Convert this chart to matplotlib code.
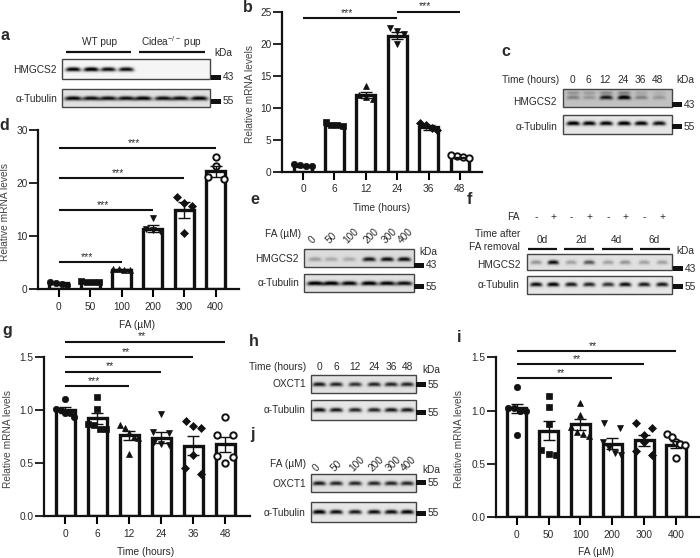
#!/usr/bin/env python3
"""Multi-panel figure: HMGCS2 / OXCT1 blots and mRNA bar charts."""
import matplotlib
matplotlib.use('Agg')
import matplotlib.pyplot as plt
from matplotlib.patches import Rectangle
import numpy as np

plt.rcParams['font.family'] = ['Liberation Sans', 'DejaVu Sans']
plt.rcParams['mathtext.fontset'] = 'custom'
plt.rcParams['mathtext.rm'] = 'Liberation Sans'
plt.rcParams['mathtext.default'] = 'regular'

W, H = 700, 558
INK = '#2a2a2a'
FS = 7.3

HOURS = ['0', '6', '12', '24', '36', '48']
DOSES = ['0', '50', '100', '200', '300', '400']

b_pts = [[1.0, 1.2, 1.1, 1.0], [7.2, 7.9, 7.4, 7.3], [11.5, 13.4, 11.8, 12.0],
         [22.5, 20.0, 22.0, 21.6], [7.4, 7.7, 6.5, 6.9], [2.5, 2.6, 2.4, 2.2]]
b_means = [1.0, 7.4, 12.1, 21.3, 7.0, 2.3]
b_errs = [0.05, 0.2, 0.5, 0.55, 0.4, 0.1]

d_pts = [[1.0, 1.3, 1.1, 0.9], [1.4, 1.5, 1.4, 1.3], [3.6, 3.9, 3.8, 3.7],
         [13.5, 11.2, 11.3, 10.9], [16.3, 17.3, 15.6, 10.6], [25.0, 23.2, 20.8, 21.2]]
d_means = [1.1, 1.4, 3.7, 11.4, 15.0, 22.2]
d_errs = [0.1, 0.1, 0.2, 0.7, 1.5, 1.1]

g_pts = [[1.10, 1.0, 1.01, 0.97, 0.97, 0.93], [1.12, 1.01, 0.86, 0.87, 0.82, 0.82],
         [0.86, 0.83, 0.78, 0.75, 0.74, 0.59], [0.96, 0.79, 0.78, 0.70, 0.68, 0.67],
         [0.90, 0.85, 0.83, 0.58, 0.45, 0.40], [0.93, 0.76, 0.76, 0.57, 0.56, 0.50]]
g_means = [1.0, 0.92, 0.76, 0.74, 0.665, 0.675]
g_errs = [0.03, 0.05, 0.04, 0.05, 0.09, 0.07]

i_pts = [[1.22, 1.02, 1.02, 1.0, 1.0, 0.77], [1.14, 1.03, 0.87, 0.63, 0.59, 0.58],
         [1.07, 0.96, 0.85, 0.80, 0.78, 0.76], [0.88, 0.84, 0.70, 0.65, 0.60, 0.58],
         [0.88, 0.84, 0.77, 0.70, 0.62, 0.58], [0.78, 0.75, 0.70, 0.69, 0.68, 0.55]]
i_means = [1.02, 0.81, 0.87, 0.69, 0.72, 0.68]
i_errs = [0.04, 0.09, 0.05, 0.05, 0.05, 0.03]

# significance bars: (from group, to group, height, label)
b_sig = [(0, 3, 24.1, '***'), (3, 5, 25.1, '***')]
d_sig = [(0, 5, 26.6, '***'), (0, 4, 20.96, '***'), (0, 3, 14.9, '***'), (0, 2, 5.1, '***')]
g_sig = [(0, 5, 1.64, '**'), (0, 4, 1.495, '**'), (0, 3, 1.36, '**'), (0, 2, 1.22, '***')]
i_sig = [(0, 5, 1.56, '**'), (0, 4, 1.435, '**'), (0, 3, 1.305, '**')]

# blot band strengths per lane
a_hmgcs2 = [0.9, 0.95, 0.85, 0.85, 0, 0, 0, 0]
a_tub = [0.9, 0.85, 0.85, 0.85, 0.9, 0.85, 0.85, 0.9]
c_hmgcs2 = [0.3, 0.2, 0.8, 0.95, 0.3, 0.2]
c_ghost = [0.25, 0.2, 0.3, 0.35, 0.15, 0.1]
c_tub = [0.95, 0.9, 0.9, 0.95, 0.9, 0.85]
e_hmgcs2 = [0.25, 0.2, 0.2, 0.8, 0.85, 0.85]
e_tub = [0.95, 0.95, 0.9, 0.95, 0.9, 0.85]
f_hmgcs2 = [0.3, 0.85, 0.25, 0.55, 0.25, 0.3, 0.25, 0.25]
f_tub = [0.85, 0.9, 0.8, 0.75, 0.7, 0.85, 0.8, 0.8]
h_oxct1 = [0.8, 0.75, 0.7, 0.75, 0.75, 0.75]
h_tub = [0.85, 0.8, 0.75, 0.75, 0.8, 0.8]
j_oxct1 = [0.8, 0.75, 0.75, 0.75, 0.75, 0.75]
j_tub = [0.95, 0.85, 0.8, 0.85, 0.85, 0.9]

fig = plt.figure(figsize=(W / 100, H / 100), dpi=100)
page = fig.add_axes([0, 0, 1, 1])
page.axis('off')


def swarm(vals, thresh):
    """Spread near-equal values sideways, the way Prism does."""
    order = np.argsort(vals)[::-1]
    off = np.zeros(len(vals))
    group = [order[0]]
    for k in list(order[1:]) + [None]:
        if k is not None and vals[group[-1]] - vals[k] < thresh:
            group.append(k)
            continue
        n = len(group)
        step = 0.5 if n == 2 else min(0.23, 0.56 / max(n - 1, 1))
        for j, idx in enumerate(group):
            off[idx] = (j - (n - 1) / 2) * step
        group = [k]
    return off


def bar_panel(x0, x1, y0, ytop, centre0, centre5, top, yticks, fmt, pts, means, errs,
              labels, sig, xlabel, xlabel_y, ylabel_x):
    step = (centre5 - centre0) / 5
    ax = fig.add_axes([x0 / W, 1 - y0 / H, (x1 - x0) / W, (y0 - ytop) / H])
    ax.set_xlim((x0 - centre0) / step, (x1 - centre0) / step)
    ax.set_ylim(0, top)
    ax.patch.set_alpha(0)
    xs = np.arange(6)
    ax.bar(xs, means, width=0.6, facecolor='white', edgecolor='#111111', linewidth=2.4, zorder=2)
    markers = ['o', 's', '^', 'v', 'D', 'o']
    for k, vals in enumerate(pts):
        vals = np.array(vals)
        off = swarm(vals, top * 0.035)
        hollow = k == 5
        ax.plot(k + off, vals, ls='none', marker=markers[k],
                ms=4.6 if markers[k] != 'D' else 3.6,
                mfc='white' if hollow else '#111111', mec='#111111',
                mew=1.4 if hollow else 0.5, zorder=3, clip_on=False)
    ax.errorbar(xs, means, yerr=errs, fmt='none', ecolor='#111111', elinewidth=1.0,
                capsize=4.4, capthick=1.0, zorder=4)
    for a, b, y, label in sig:
        ax.plot([a, b], [y, y], color='#111111', lw=1.5, clip_on=False, solid_capstyle='butt')
        ax.text((a + b) / 2 - 0.1, y + top * 0.002, label, ha='center', va='bottom', fontsize=7.5, color=INK)
    for side in ('top', 'right'):
        ax.spines[side].set_visible(False)
    for side in ('left', 'bottom'):
        ax.spines[side].set_linewidth(1.6)
        ax.spines[side].set_color('#111111')
    ax.set_xticks(xs, labels, fontsize=FS, color=INK)
    ax.set_yticks(yticks, [fmt % t for t in yticks], fontsize=FS, color=INK)
    ax.tick_params(axis='x', length=6, width=1.5, pad=3)
    ax.tick_params(axis='y', length=6.5, width=1.2, pad=1)
    page.text(ylabel_x, (y0 + ytop) / 2 + 2, 'Relative mRNA levels', rotation=90, ha='center', va='center',
              fontsize=FS, color='#444444')
    page.text((centre0 + centre5) / 2, xlabel_y, xlabel, ha='center', va='center', fontsize=FS, color=INK)


def gel(x0, x1, y0, y1, lanes, levels, bg=0.92, yc=0.5, half=6.5, ghost=None, ghost_yc=0.2):
    gx = np.arange(x0, x1, 0.5)
    gy = np.arange(y0, y1, 0.5)
    xx, yy = np.meshgrid(gx, gy)
    img = np.full(xx.shape, bg)
    cy = y0 + yc * (y1 - y0)
    for lx, lev in zip(lanes, levels):
        prof = np.exp(-((xx - lx) / half) ** 4)
        img -= 1.15 * lev * bg * prof * np.exp(-((yy - cy - 0.5 * ((xx - lx) / half) ** 2) / 2.1) ** 2)
    if ghost is not None:
        gc = y0 + ghost_yc * (y1 - y0)
        for lx, lev in zip(lanes, ghost):
            prof = np.exp(-((xx - lx) / half) ** 4)
            img -= lev * bg * prof * np.exp(-((yy - gc) / 1.8) ** 2)
    page.imshow(np.clip(img, 0, 1), extent=(x0, x1, y1, y0), cmap='gray', vmin=0, vmax=1,
                aspect='auto', interpolation='bilinear', zorder=1)
    page.add_patch(Rectangle((x0, y0), x1 - x0, y1 - y0, fill=False, ec='#444444', lw=1.0, zorder=2))


def size_mark(x, y, label):
    page.add_patch(Rectangle((x, y - 2.5), 10, 5, fc='#111111', ec='none', zorder=2))
    page.text(x + 12, y + 0.5, label, ha='left', va='center', fontsize=FS, color=INK)


def txt(x, y, s, ha='center', rot=0, size=FS, **kw):
    page.text(x, y, s, ha=ha, va='center', rotation=rot, fontsize=size, color=INK,
              rotation_mode='anchor', **kw)


def hline(x0, x1, y):
    page.plot([x0, x1], [y, y], color='#111111', lw=1.6, solid_capstyle='butt', zorder=2)


# panel letters
for letter, lx, ly in [('a', 5, 35), ('b', 248, 7), ('c', 506, 52), ('d', 4, 126), ('e', 255, 199),
                       ('f', 469, 199), ('g', 7, 331), ('h', 254, 342), ('i', 459, 337), ('j', 253, 435)]:
    txt(lx, ly, letter, size=11.5, fontweight='bold')

# a
lanes_a = [73, 91, 108, 126, 143, 163, 180, 199]
gel(62, 210, 59, 79, lanes_a, a_hmgcs2, bg=0.96, half=7.5)
gel(62, 210, 89, 107, lanes_a, a_tub, bg=0.88, half=8.5, yc=0.5)
hline(66, 131, 52)
hline(139, 205, 52)
txt(99, 42, 'WT pup')
txt(172, 42, 'Cidea$^{-/-}$ pup')
txt(223, 53, 'kDa')
txt(57, 70, 'HMGCS2', ha='right')
txt(57, 99, 'α-Tubulin', ha='right')
size_mark(211, 77, '43')
size_mark(211, 101, '55')

# c
lanes_c = [573, 589, 606, 624, 641, 659]
gel(563, 672, 89, 107, lanes_c, c_hmgcs2, bg=0.76, yc=0.45, ghost=c_ghost)
gel(563, 672, 115, 134, lanes_c, c_tub, bg=0.9, yc=0.42)
txt(531, 80, 'Time (hours)')
for lx, s in zip(lanes_c, HOURS):
    txt(lx - 1, 80, s)
txt(685, 80, 'kDa')
txt(557, 102, 'HMGCS2', ha='right')
txt(557, 127, 'α-Tubulin', ha='right')
size_mark(672, 104, '43')
size_mark(672, 126, '55')

# e
lanes_e = [315, 331, 349, 369, 387, 404]
gel(304, 414, 249, 267, lanes_e, e_hmgcs2, bg=0.86, yc=0.55)
gel(304, 414, 274, 292, lanes_e, e_tub, bg=0.88, half=8)
txt(283, 234, 'FA (µM)')
for lx, s in zip(lanes_e, DOSES):
    txt(lx - 4, 242, s, ha='left', rot=45)
txt(428, 252, 'kDa')
txt(299, 259, 'HMGCS2', ha='right')
txt(299, 283, 'α-Tubulin', ha='right')
size_mark(414, 265, '43')
size_mark(414, 286, '55')

# f
lanes_f = [536, 553, 571, 589, 608, 625, 644, 662]
gel(527, 672, 254, 270, lanes_f, f_hmgcs2, bg=0.88, half=5.5)
gel(527, 672, 276, 294, lanes_f, f_tub, bg=0.9, half=6, yc=0.45)
txt(520, 217, 'FA', ha='right')
for lx, s in zip(lanes_f, ['-', '+'] * 4):
    txt(lx, 217, s)
txt(520, 234, 'Time after', ha='right')
txt(520, 247, 'FA removal', ha='right')
for x0, x1, cx, s in [(528, 557, 542, '0d'), (564, 594, 581, '2d'), (602, 633, 616, '4d'), (640, 670, 654, '6d')]:
    hline(x0, x1, 249)
    txt(cx, 240, s)
txt(685, 251, 'kDa')
txt(520, 265, 'HMGCS2', ha='right')
txt(520, 285, 'α-Tubulin', ha='right')
size_mark(673, 268, '43')
size_mark(673, 286, '55')

# h
lanes_h = [319, 336, 355, 374, 391, 407]
gel(311, 416, 375, 393, lanes_h, h_oxct1, bg=0.88)
gel(311, 416, 400, 420, lanes_h, h_tub, bg=0.9, yc=0.48)
txt(278, 367, 'Time (hours)')
for lx, s in zip(lanes_h, HOURS):
    txt(lx, 367, s)
txt(431, 370, 'kDa')
txt(306, 384, 'OXCT1', ha='right')
txt(306, 410, 'α-Tubulin', ha='right')
size_mark(416, 384, '55')
size_mark(416, 412, '55')

# j
gel(311, 416, 474, 492, lanes_h, j_oxct1, bg=0.88)
gel(311, 416, 502, 522, lanes_h, j_tub, bg=0.9, yc=0.48)
txt(288, 464, 'FA (µM)')
for lx, s in zip(lanes_h, DOSES):
    txt(lx - 4, 470, s, ha='left', rot=45)
txt(431, 470, 'kDa')
txt(306, 484, 'OXCT1', ha='right')
txt(306, 513, 'α-Tubulin', ha='right')
size_mark(416, 482, '55')
size_mark(416, 513, '55')

page.set_xlim(0, W)
page.set_ylim(H, 0)

bar_panel(282, 482, 172, 12.3, 303, 460, 25, [0, 5, 10, 15, 20, 25], '%d', b_pts, b_means, b_errs,
          HOURS, b_sig, 'Time (hours)', 208, 250)
bar_panel(38, 239, 289.3, 130, 58.7, 215.7, 30, [0, 10, 20, 30], '%d', d_pts, d_means, d_errs,
          DOSES, d_sig, 'FA (µM)', 325, 5)
bar_panel(44, 250, 516.3, 356.7, 65.3, 225.3, 1.5, [0, 0.5, 1.0, 1.5], '%.1f', g_pts, g_means, g_errs,
          HOURS, g_sig, 'Time (hours)', 552, 8)
bar_panel(495.7, 699, 517, 357.3, 516.7, 676, 1.5, [0, 0.5, 1.0, 1.5], '%.1f', i_pts, i_means, i_errs,
          DOSES, i_sig, 'FA (µM)', 552, 459)

fig.savefig('out.png', dpi=100)
